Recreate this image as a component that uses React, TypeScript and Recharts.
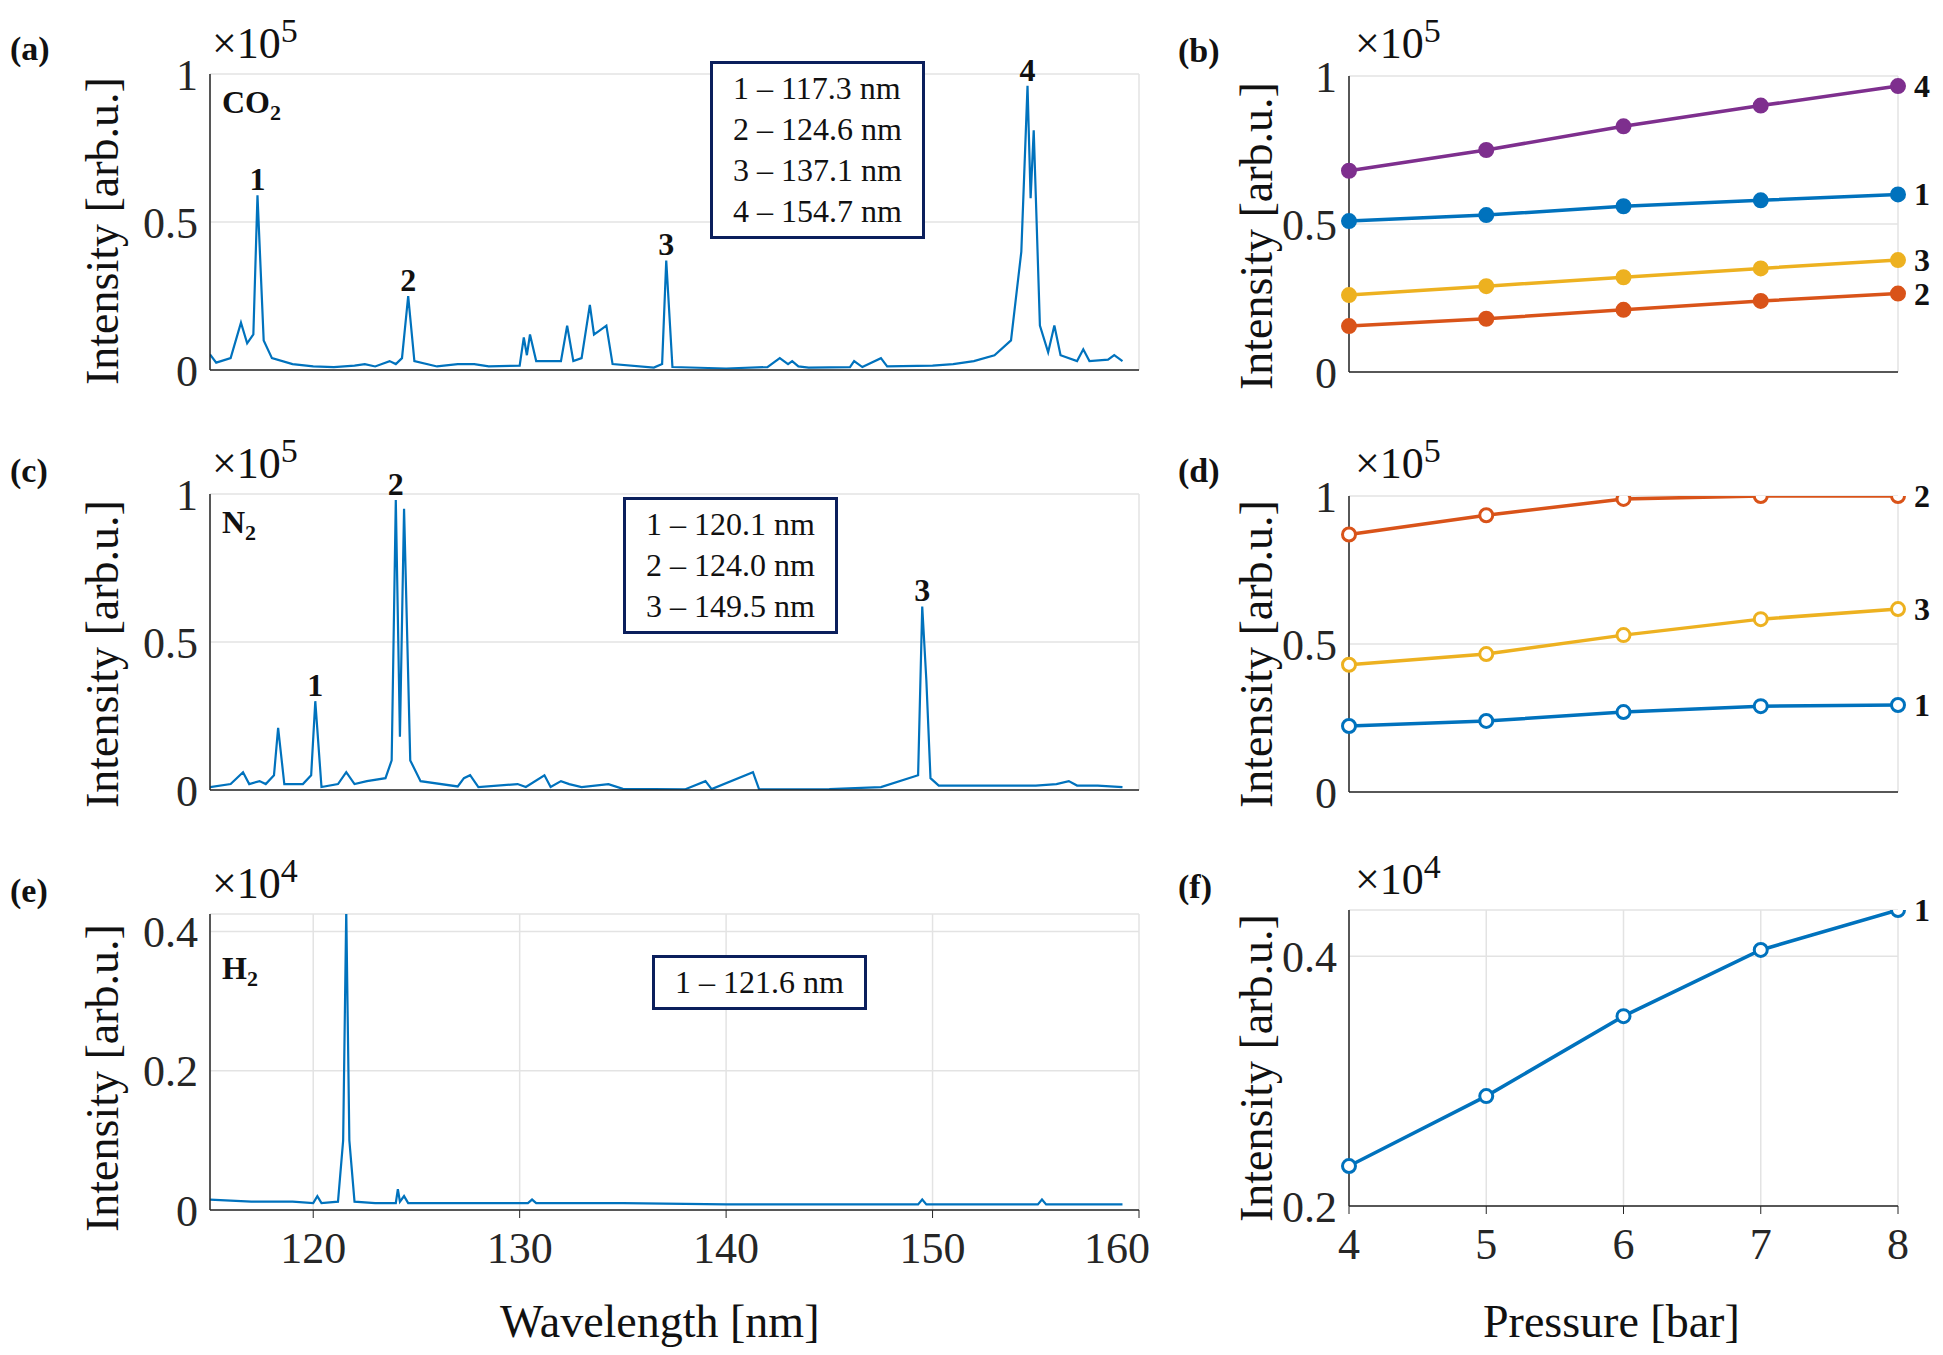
import React from "react";
import { LineChart, Line, XAxis, YAxis, CartesianGrid, ReferenceDot } from "recharts";

const co2Wl = [115, 115.3, 116, 116.5, 116.8, 117.1, 117.3, 117.6, 118, 119, 120, 121, 122, 122.5, 123, 123.7, 124, 124.3, 124.6, 124.9, 126, 127, 127.8, 128.5, 130, 130.2, 130.35, 130.5, 130.8, 132, 132.3, 132.6, 133, 133.4, 133.6, 133.8, 134.2, 134.5, 136.5, 136.9, 137.1, 137.4, 140, 142, 142.6, 143, 143.2, 143.5, 144, 146, 146.2, 146.6, 147.5, 147.8, 150, 151, 152, 153, 153.8, 154.3, 154.6, 154.75, 154.9, 155.2, 155.6, 155.9, 156.2, 157, 157.3, 157.6, 158.5, 158.8, 159.2];
const co2Int = [0.053, 0.025, 0.04, 0.16, 0.09, 0.12, 0.59, 0.1, 0.04, 0.02, 0.012, 0.01, 0.015, 0.02, 0.012, 0.03, 0.02, 0.04, 0.25, 0.03, 0.012, 0.02, 0.02, 0.012, 0.015, 0.11, 0.05, 0.12, 0.03, 0.03, 0.15, 0.03, 0.04, 0.22, 0.12, 0.13, 0.15, 0.02, 0.008, 0.02, 0.37, 0.01, 0.005, 0.01, 0.04, 0.02, 0.03, 0.012, 0.008, 0.01, 0.03, 0.01, 0.04, 0.012, 0.015, 0.02, 0.03, 0.05, 0.1, 0.4, 0.96, 0.58, 0.81, 0.15, 0.06, 0.15, 0.05, 0.03, 0.07, 0.03, 0.035, 0.05, 0.03];

const n2Wl = [115, 116, 116.6, 116.9, 117.4, 117.7, 118.1, 118.3, 118.6, 119.5, 119.9, 120.1, 120.4, 121.2, 121.6, 122, 122.6, 123.5, 123.8, 124.0, 124.2, 124.4, 124.7, 125.2, 127, 127.3, 127.6, 128, 129.9, 130.3, 131.2, 131.5, 132, 132.4, 133, 134.3, 135, 138, 139.0, 139.3, 141.3, 141.6, 145, 147.5, 149.3, 149.5, 149.7, 149.9, 150.3, 155, 156, 156.6, 157, 158, 159.2];
const n2Int = [0.01, 0.02, 0.06, 0.02, 0.03, 0.02, 0.05, 0.21, 0.02, 0.02, 0.05, 0.3, 0.01, 0.02, 0.06, 0.02, 0.03, 0.04, 0.1, 0.98, 0.18, 0.95, 0.1, 0.03, 0.012, 0.04, 0.05, 0.01, 0.02, 0.01, 0.05, 0.01, 0.03, 0.02, 0.01, 0.02, 0.004, 0.002, 0.03, 0.003, 0.06, 0.002, 0.003, 0.01, 0.05, 0.62, 0.37, 0.04, 0.015, 0.015, 0.02, 0.03, 0.015, 0.015, 0.01];

const h2Wl = [115, 117, 119, 120, 120.2, 120.4, 121.2, 121.45, 121.6, 121.75, 122, 123, 124, 124.1, 124.2, 124.4, 124.6, 126, 128, 130.4, 130.6, 130.8, 135, 140, 145, 149.3, 149.5, 149.7, 155.1, 155.3, 155.5, 159.2];
const h2Int = [0.015, 0.012, 0.012, 0.01, 0.02, 0.01, 0.012, 0.1, 0.43, 0.1, 0.012, 0.01, 0.01, 0.03, 0.012, 0.02, 0.01, 0.01, 0.01, 0.01, 0.015, 0.01, 0.01, 0.008, 0.008, 0.008, 0.015, 0.008, 0.008, 0.015, 0.008, 0.008];

const pressure = [4, 5, 6, 7, 8];
const co2P1 = [0.51, 0.53, 0.56, 0.58, 0.6];
const co2P2 = [0.155, 0.18, 0.21, 0.24, 0.265];
const co2P3 = [0.26, 0.29, 0.32, 0.35, 0.378];
const co2P4 = [0.68, 0.75, 0.83, 0.9, 0.966];
const n2P1 = [0.223, 0.24, 0.27, 0.29, 0.294];
const n2P2 = [0.87, 0.935, 0.99, 1.0, 1.0];
const n2P3 = [0.43, 0.466, 0.53, 0.584, 0.618];
const h2P1 = [0.232, 0.288, 0.352, 0.405, 0.437];

const wlTicks = [120, 130, 140, 150, 160];

const zip = (xs: number[], ys: number[]) => xs.map((x, i) => ({ x, y: ys[i] }));
const pTable = (series: Record<string, number[]>) =>
  pressure.map((p, i) => {
    const row: Record<string, number> = { p };
    Object.keys(series).forEach((k) => (row[k] = series[k][i]));
    return row;
  });

const FONT = "'Liberation Serif', 'DejaVu Serif', serif";
const BLUE = "#0072BD", ORANGE = "#D95319", YELLOW = "#EDB120", PURPLE = "#7E2F8E";
const NAVY = "#0b1f5c";
const tick = { fontSize: 44, fill: "#262626", fontFamily: FONT };
const axisLine = { stroke: "#262626", strokeWidth: 1.5 };
const PAD = 40; // room above/below plot so labels are not clipped
const PLOT_H = 296;

const Abs = ({ l, t, style, children }: any) => (
  <div style={{ position: "absolute", left: l, top: t, fontFamily: FONT, color: "#111", whiteSpace: "nowrap", ...style }}>{children}</div>
);

const YLabel = ({ l, t }: { l: number; t: number }) => (
  <Abs l={l} t={t} style={{ fontSize: 46, transform: "rotate(-90deg)", transformOrigin: "left top" }}>Intensity [arb.u.]</Abs>
);

const Exp = ({ l, t, p }: { l: number; t: number; p: number }) => (
  <Abs l={l} t={t} style={{ fontSize: 44 }}>×10<sup style={{ fontSize: 34 }}>{p}</sup></Abs>
);

const Box = ({ l, t, lines }: { l: number; t: number; lines: string[] }) => (
  <Abs l={l} t={t} style={{ border: `3px solid ${NAVY}`, background: "#fff", padding: "4px 20px", fontSize: 32, lineHeight: "41px" }}>
    {lines.map((s) => <div key={s}>{s}</div>)}
  </Abs>
);

const peakLabel = (text: string) => ({ value: text, position: "top" as const, fontSize: 32, fontWeight: 700, fill: "#111", fontFamily: FONT });

const Spectrum = ({ top, data, yMax, yTicks, showX, peaks }: any) => (
  <div style={{ position: "absolute", left: 0, top: top - PAD }}>
    <LineChart width={1150} height={PAD + PLOT_H + (showX ? 70 : 2) + PAD} data={data} margin={{ top: PAD, right: 11, left: 130, bottom: PAD }}>
      <CartesianGrid stroke="#e3e3e3" strokeWidth={1.5} />
      <XAxis type="number" dataKey="x" domain={[115, 160]} ticks={wlTicks} allowDataOverflow
        tick={showX ? tick : false} height={showX ? 70 : 2} tickSize={8} tickMargin={14} axisLine={axisLine} tickLine={{ stroke: "#262626" }} />
      <YAxis type="number" domain={[0, yMax]} ticks={yTicks} allowDataOverflow width={80} tick={tick} interval={0}
        tickSize={0} tickMargin={12} axisLine={axisLine} tickFormatter={(v: number) => `${v}`} />
      <Line dataKey="y" stroke={BLUE} strokeWidth={2.2} dot={false} isAnimationActive={false} type="linear" />
      {peaks.map((pk: any) => (
        <ReferenceDot key={pk.t} x={pk.x} y={pk.y} r={0} stroke="none" label={peakLabel(pk.t)} />
      ))}
    </LineChart>
  </div>
);

const endLabel = (text: string) => (props: any) =>
  props.index === 4 ? (
    <text x={props.x + 16} y={props.y + 11} fontSize={32} fontWeight={700} fontFamily={FONT} fill="#111">{text}</text>
  ) : null;

const Pressure = ({ top, data, series, domain, yTicks, showX, filled }: any) => (
  <div style={{ position: "absolute", left: 1200, top: top - PAD }}>
    <LineChart width={743} height={PAD + PLOT_H + (showX ? 70 : 2) + PAD} data={data} margin={{ top: PAD, right: 45, left: 69, bottom: PAD }}>
      <CartesianGrid stroke="#e3e3e3" strokeWidth={1.5} />
      <XAxis type="number" dataKey="p" domain={[4, 8]} ticks={pressure} tick={showX ? tick : false}
        height={showX ? 70 : 2} tickSize={8} tickMargin={14} axisLine={axisLine} tickLine={{ stroke: "#262626" }} />
      <YAxis type="number" domain={domain} ticks={yTicks} allowDataOverflow width={80} tick={tick} interval={0}
        tickSize={0} tickMargin={12} axisLine={axisLine} />
      {series.map((s: any) => (
        <Line key={s.k} dataKey={s.k} stroke={s.c} strokeWidth={3.5} type="linear" isAnimationActive={false}
          dot={{ r: 6.5, stroke: s.c, strokeWidth: 3, fill: filled ? s.c : "#fff" }}
          label={endLabel(s.label)} />
      ))}
    </LineChart>
  </div>
);

export default function App() {
  return (
    <div style={{ position: "absolute", left: 0, top: 0, width: 1943, height: 1355, background: "#fff", overflow: "hidden" }}>
      <Spectrum top={74} data={zip(co2Wl, co2Int)} yMax={1} yTicks={[0, 0.5, 1]}
        peaks={[{ x: 117.3, y: 0.59, t: "1" }, { x: 124.6, y: 0.25, t: "2" }, { x: 137.1, y: 0.37, t: "3" }, { x: 154.6, y: 0.96, t: "4" }]} />
      <Spectrum top={494} data={zip(n2Wl, n2Int)} yMax={1} yTicks={[0, 0.5, 1]}
        peaks={[{ x: 120.1, y: 0.3, t: "1" }, { x: 124.0, y: 0.98, t: "2" }, { x: 149.5, y: 0.62, t: "3" }]} />
      <Spectrum top={914} data={zip(h2Wl, h2Int)} yMax={0.425} yTicks={[0, 0.2, 0.4]} showX
        peaks={[{ x: 121.6, y: 0.43, t: "1" }]} />

      <Pressure top={76} data={pTable({ a: co2P1, b: co2P2, c: co2P3, d: co2P4 })} domain={[0, 1]} yTicks={[0, 0.5, 1]} filled
        series={[{ k: "d", c: PURPLE, label: "4" }, { k: "a", c: BLUE, label: "1" }, { k: "c", c: YELLOW, label: "3" }, { k: "b", c: ORANGE, label: "2" }]} />
      <Pressure top={496} data={pTable({ a: n2P1, b: n2P2, c: n2P3 })} domain={[0, 1]} yTicks={[0, 0.5, 1]}
        series={[{ k: "b", c: ORANGE, label: "2" }, { k: "c", c: YELLOW, label: "3" }, { k: "a", c: BLUE, label: "1" }]} />
      <Pressure top={910} data={pTable({ a: h2P1 })} domain={[0.2, 0.437]} yTicks={[0.2, 0.4]} showX
        series={[{ k: "a", c: BLUE, label: "1" }]} />

      <Abs l={10} t={30} style={{ fontSize: 34, fontWeight: 700 }}>(a)</Abs>
      <Abs l={10} t={452} style={{ fontSize: 34, fontWeight: 700 }}>(c)</Abs>
      <Abs l={10} t={872} style={{ fontSize: 34, fontWeight: 700 }}>(e)</Abs>
      <Abs l={1178} t={32} style={{ fontSize: 34, fontWeight: 700 }}>(b)</Abs>
      <Abs l={1178} t={452} style={{ fontSize: 34, fontWeight: 700 }}>(d)</Abs>
      <Abs l={1178} t={868} style={{ fontSize: 34, fontWeight: 700 }}>(f)</Abs>

      <Exp l={212} t={12} p={5} />
      <Exp l={212} t={432} p={5} />
      <Exp l={212} t={852} p={4} />
      <Exp l={1355} t={12} p={5} />
      <Exp l={1355} t={432} p={5} />
      <Exp l={1355} t={848} p={4} />

      <YLabel l={76} t={385} />
      <YLabel l={76} t={808} />
      <YLabel l={76} t={1232} />
      <YLabel l={1230} t={390} />
      <YLabel l={1230} t={808} />
      <YLabel l={1230} t={1222} />

      <Abs l={222} t={84} style={{ fontSize: 32, fontWeight: 700 }}>CO<sub style={{ fontSize: 22 }}>2</sub></Abs>
      <Abs l={222} t={504} style={{ fontSize: 32, fontWeight: 700 }}>N<sub style={{ fontSize: 22 }}>2</sub></Abs>
      <Abs l={222} t={950} style={{ fontSize: 32, fontWeight: 700 }}>H<sub style={{ fontSize: 22 }}>2</sub></Abs>

      <Box l={710} t={61} lines={["1 – 117.3 nm", "2 – 124.6 nm", "3 – 137.1 nm", "4 – 154.7 nm"]} />
      <Box l={623} t={497} lines={["1 – 120.1 nm", "2 – 124.0 nm", "3 – 149.5 nm"]} />
      <Box l={652} t={955} lines={["1 – 121.6 nm"]} />

      <Abs l={500} t={1295} style={{ fontSize: 46 }}>Wavelength [nm]</Abs>
      <Abs l={1483} t={1295} style={{ fontSize: 46 }}>Pressure [bar]</Abs>
    </div>
  );
}
